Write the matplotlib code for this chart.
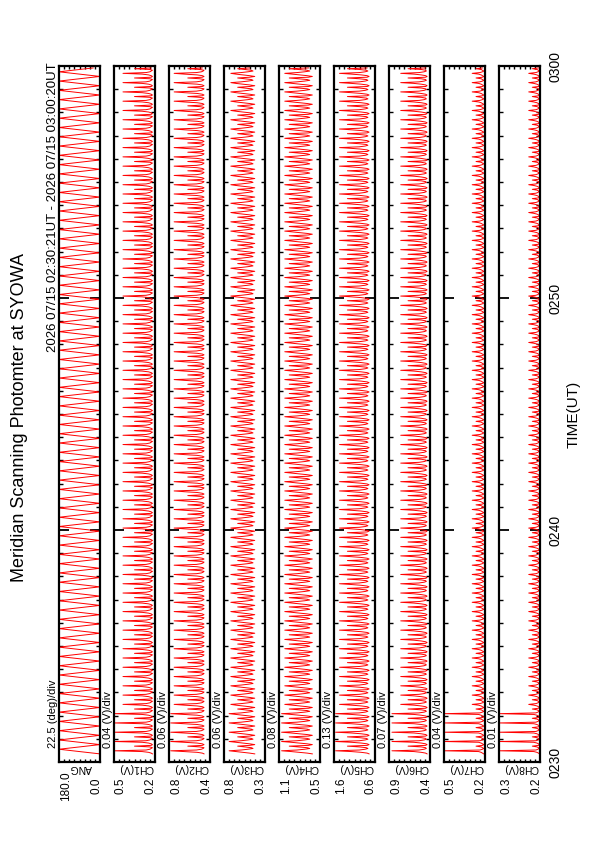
import numpy as np
import matplotlib.pyplot as plt

plt.rcParams['font.family'] = ['Liberation Sans', 'DejaVu Sans']

# panels (left to right on the page)
names = ['ANG', 'CH1(V)', 'CH2(V)', 'CH3(V)', 'CH4(V)', 'CH5(V)', 'CH6(V)', 'CH7(V)', 'CH8(V)']
top_lab = ['180.0', '0.5', '0.8', '0.8', '1.1', '1.6', '0.9', '0.5', '0.3']
bot_lab = ['0.0', '0.2', '0.4', '0.3', '0.5', '0.6', '0.4', '0.2', '0.2']
vmin = [0.0, 0.2, 0.4, 0.3, 0.5, 0.6, 0.4, 0.2, 0.2]
vdiv = [22.5, 0.04, 0.06, 0.06, 0.08, 0.13, 0.07, 0.04, 0.01]
div_lab = ['22.5 (deg)/div', '0.04 (V)/div', '0.06 (V)/div', '0.06 (V)/div', '0.08 (V)/div',
           '0.13 (V)/div', '0.07 (V)/div', '0.04 (V)/div', '0.01 (V)/div']

# time: minutes after 02:30
t_first = 0.35      # 02:30:21
t_last = 30.33      # 03:00:20
scan_min = 0.40     # one scan, minutes

# one scan (samples in one sweep and back)
ang_scan = [0, 30, 60, 90, 120, 150, 180, 150, 120, 90, 60, 30]
ch_scan = {
    'CH1(V)': [0.22, 0.23, 0.25, 0.30, 0.45, 0.27, 0.24, 0.23, 0.22, 0.24, 0.36, 0.23],
    'CH2(V)': [0.47, 0.49, 0.55, 0.70, 0.82, 0.56, 0.50, 0.48, 0.47, 0.52, 0.66, 0.49],
    'CH3(V)': [0.42, 0.48, 0.56, 0.64, 0.70, 0.58, 0.50, 0.44, 0.46, 0.54, 0.62, 0.48],
    'CH4(V)': [0.62, 0.70, 0.82, 0.95, 1.05, 0.86, 0.74, 0.66, 0.70, 0.84, 0.98, 0.68],
    'CH5(V)': [0.75, 0.80, 0.95, 1.20, 1.50, 1.00, 0.85, 0.78, 0.82, 1.00, 1.30, 0.80],
    'CH6(V)': [0.44, 0.46, 0.52, 0.62, 0.80, 0.55, 0.48, 0.45, 0.46, 0.52, 0.70, 0.46],
    'CH7(V)': [0.21, 0.22, 0.23, 0.25, 0.30, 0.24, 0.22, 0.21, 0.22, 0.23, 0.27, 0.22],
    'CH8(V)': [0.201, 0.203, 0.206, 0.212, 0.222, 0.208, 0.204, 0.202, 0.203, 0.206, 0.215, 0.203],
}
# strong peaks seen at the start (first scans) for each channel
ch_start_peak = {
    'CH1(V)': 0.52, 'CH2(V)': 0.86, 'CH3(V)': 0.72, 'CH4(V)': 1.10,
    'CH5(V)': 1.60, 'CH6(V)': 0.92, 'CH7(V)': 0.52, 'CH8(V)': 0.28,
}
n_start = 5

n_scan = int((t_last - t_first) / scan_min)
steps = len(ang_scan)
t = t_first + np.arange(n_scan * steps) * scan_min / steps

fig = plt.figure(figsize=(5.95, 8.42), dpi=100)
W, H = 595.0, 842.0
top_px, bot_px = 66, 762
for i, name in enumerate(names):
    left_px = 59 + 55 * i
    ax = fig.add_axes([left_px / W, 1 - bot_px / H, 41 / W, (bot_px - top_px) / H])
    if name == 'ANG':
        vals = np.tile(ang_scan, n_scan)
    else:
        prof = np.tile(ch_scan[name], n_scan).astype(float)
        pk = ch_start_peak[name]
        for k in range(n_start):
            prof[k * steps + 4] = pk
        vals = prof
    vmax = vmin[i] + 8 * vdiv[i]
    ax.plot(vals, t, color='red', lw=0.7)
    ax.set_xlim(vmax, vmin[i])
    ax.set_ylim(0, 30)
    for s in ax.spines.values():
        s.set_linewidth(1.6)
    ax.set_xticks(vmin[i] + vdiv[i] * np.arange(1, 8))
    ax.set_xticklabels([])
    ax.tick_params(axis='x', which='both', direction='in', top=True, bottom=True,
                   length=2.5, width=1.0)
    ax.set_yticks([0, 10, 20, 30])
    ax.set_yticks(np.arange(0, 31, 1), minor=True)
    ax.tick_params(axis='y', which='major', direction='in', left=True, right=True,
                   length=7, width=1.3)
    ax.tick_params(axis='y', which='minor', direction='in', left=True, right=True,
                   length=3, width=1.0)
    if i == len(names) - 1:
        ax.set_yticklabels(['0230', '0240', '0250', '0300'])
        ax.tick_params(axis='y', labelleft=False, labelright=True, labelsize=10,
                       pad=6, labelrotation=90)
        for lab in ax.get_yticklabels():
            lab.set_va('center')
    else:
        ax.set_yticklabels([])

    # labels below each panel
    fig.text((left_px + 7) / W, 1 - 786 / H, top_lab[i], rotation=90, fontsize=8.5,
             ha='center', va='center')
    fig.text((left_px + 37) / W, 1 - 786 / H, bot_lab[i], rotation=90, fontsize=8.5,
             ha='center', va='center')
    fig.text((left_px + 22) / W, 1 - 768 / H, name, rotation=180, fontsize=7.5,
             ha='center', va='center')
    fig.text((left_px - 6) / W, 1 - 748 / H, div_lab[i], rotation=90, fontsize=8,
             ha='center', va='bottom')

fig.text(20 / W, 1 - 418 / H, 'Meridian Scanning Photomter at SYOWA', rotation=90,
         fontsize=13, ha='center', va='center')
fig.text(53 / W, 1 - 62 / H, '2026 07/15 02:30:21UT - 2026 07/15 03:00:20UT', rotation=90,
         fontsize=9.5, ha='center', va='top')
fig.text(574 / W, 1 - 414 / H, 'TIME(UT)', rotation=90, fontsize=11,
         ha='center', va='center')

fig.savefig('out.png', dpi=100)
